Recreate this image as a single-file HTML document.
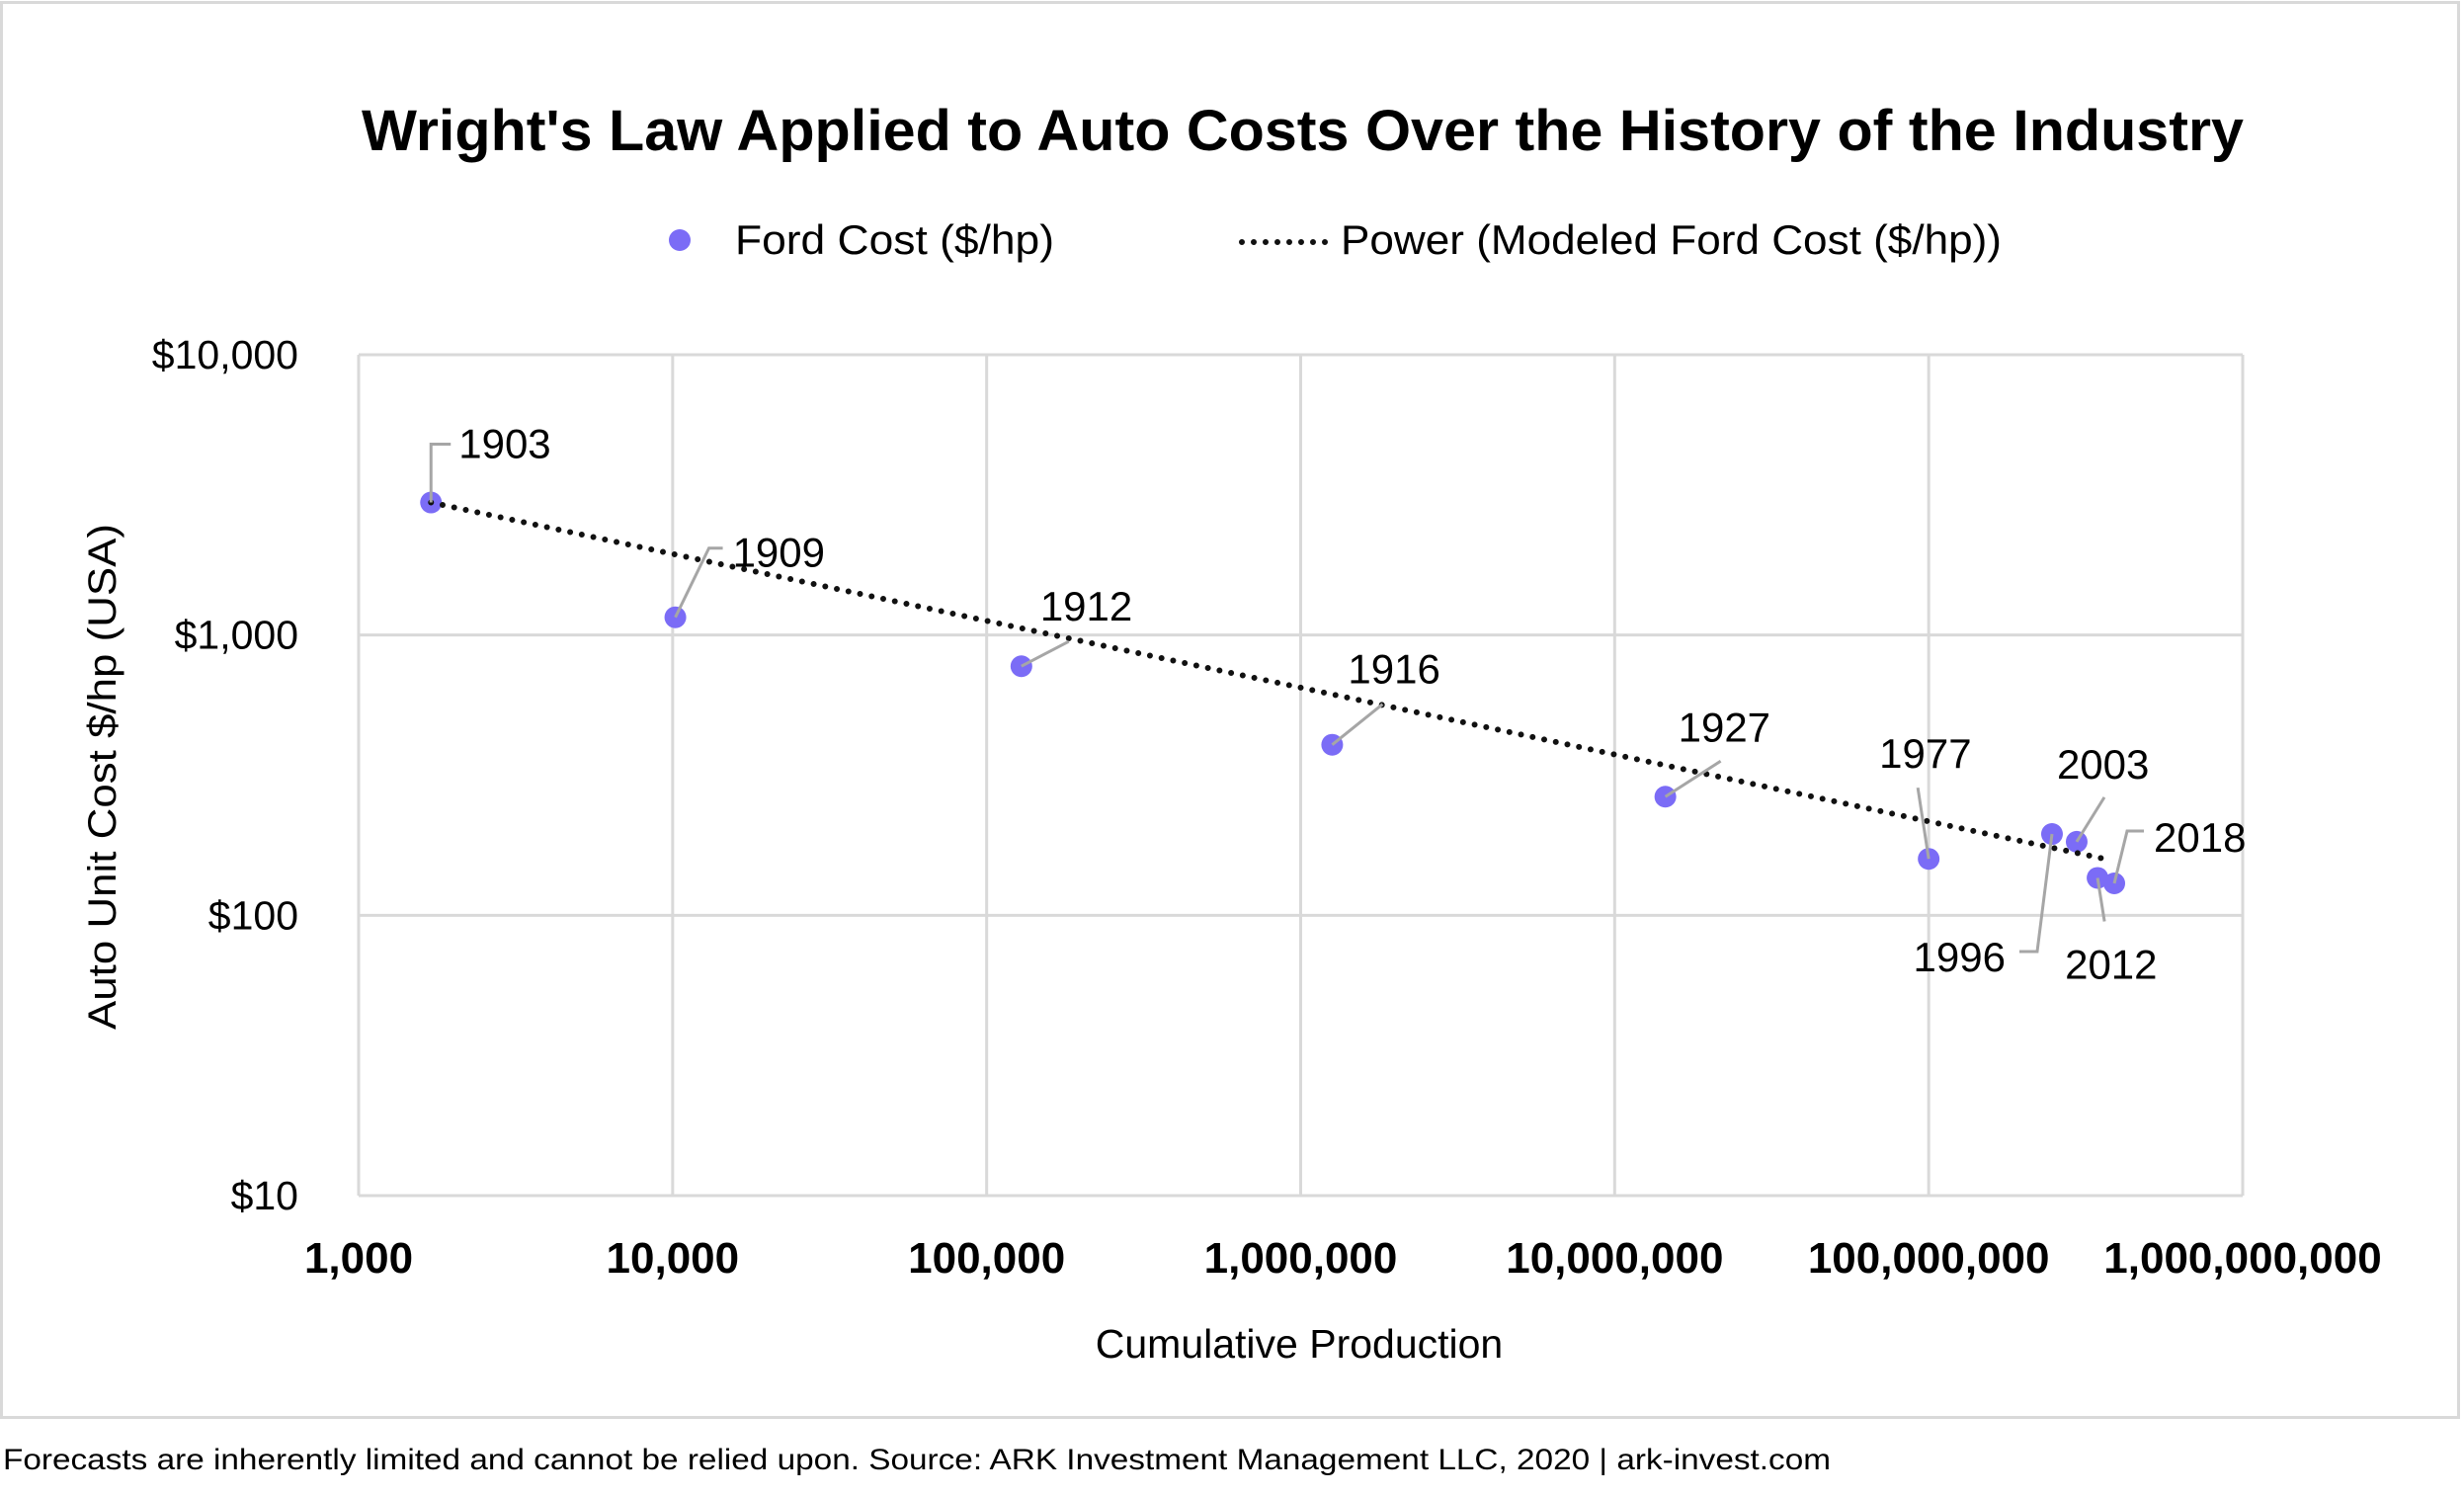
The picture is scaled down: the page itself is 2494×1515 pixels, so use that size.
<!DOCTYPE html>
<html><head><meta charset="utf-8"><style>
html,body{margin:0;padding:0;background:#fff;}
svg{display:block;}
text{font-family:"Liberation Sans",sans-serif;fill:#000;}
</style></head><body>
<svg id="chart" width="2494" height="1515" viewBox="0 0 2494 1515" xmlns="http://www.w3.org/2000/svg">
<rect x="1.5" y="2.5" width="2487" height="1432" fill="#fff" stroke="#d9d9d9" stroke-width="3"/>
<text x="366" y="152" font-size="58" font-weight="bold" textLength="1905" lengthAdjust="spacingAndGlyphs">Wright's Law Applied to Auto Costs Over the History of the Industry</text>
<g>
<circle cx="688" cy="243" r="11" fill="#7b6cf6"/>
<text x="744" y="257" font-size="42" textLength="323" lengthAdjust="spacingAndGlyphs">Ford Cost ($/hp)</text>
<line x1="1257" y1="245" x2="1346" y2="245" stroke="#111" stroke-width="6" stroke-dasharray="0 12" stroke-linecap="round"/>
<text x="1357" y="257" font-size="42" textLength="669" lengthAdjust="spacingAndGlyphs">Power (Modeled Ford Cost ($/hp))</text>
</g>
<g id="plot"></g>
<text x="1315" y="1374" font-size="41" text-anchor="middle">Cumulative Production</text>
<text transform="translate(117,786) rotate(-90)" font-size="40" text-anchor="middle" textLength="512" lengthAdjust="spacingAndGlyphs">Auto Unit Cost $/hp (USA)</text>
<text x="3" y="1487" font-size="30" textLength="1850" lengthAdjust="spacingAndGlyphs">Forecasts are inherently limited and cannot be relied upon. Source: ARK Investment Management LLC, 2020  |  ark-invest.com</text>
</svg>
<script>
const years = ["1903","1909","1912","1916","1927","1977","1996","2003","2012","2018"];
const production = [1700, 10200, 129000, 1260000, 14500000, 100000000, 247000000, 296000000, 345000000, 390000000];
const costPerHp = [2970, 1157, 774, 406, 265, 159, 195, 183, 136, 130];
const xTicks = [1e3,1e4,1e5,1e6,1e7,1e8,1e9];
const xTickLabels = ["1,000","10,000","100,000","1,000,000","10,000,000","100,000,000","1,000,000,000"];
const yTicks = [10,100,1000,10000];
const yTickLabels = ["$10","$100","$1,000","$10,000"];
const trendCoefA = 17508;
const trendExpB = -0.2385;
const trendRange = [1700, 363000000];

const L=363,R=2270,T=359,B=1210;
const xs = v => L + (Math.log10(v)-3)/6*(R-L);
const ys = v => B - (Math.log10(v)-1)/3*(B-T);
const NS="http://www.w3.org/2000/svg";
const plot=document.getElementById('plot');
function mk(tag,attrs,parent){const e=document.createElementNS(NS,tag);for(const k in attrs)e.setAttribute(k,attrs[k]);(parent||plot).appendChild(e);return e;}

xTicks.forEach((t,i)=>{
  const g=mk('line',{x1:xs(t),x2:xs(t),y1:T,y2:B,stroke:'#d9d9d9','stroke-width':3});
  
  
  const tx=mk('text',{x:xs(t),y:1288,'font-size':44,'font-weight':'bold','text-anchor':'middle'});
  tx.textContent=xTickLabels[i];
  
  
});
yTicks.forEach((t,i)=>{
  const g=mk('line',{x1:L,x2:R,y1:ys(t),y2:ys(t),stroke:'#d9d9d9','stroke-width':3});
  
  
  const tx=mk('text',{x:302,y:ys(t)+14,'font-size':41,'text-anchor':'end'});
  tx.textContent=yTickLabels[i];
  
  
});

const lead=[
 {p:[[0,0],[0,-59],[20,-59]],tx:28,ty:-45,a:'start'},
 {p:[[0,0],[34,-70],[48,-70]],tx:58,ty:-51,a:'start'},
 {p:[[0,0],[48,-25]],tx:19,ty:-46,a:'start'},
 {p:[[0,0],[51,-41]],tx:16,ty:-62,a:'start'},
 {p:[[0,0],[56,-36]],tx:13,ty:-56,a:'start'},
 {p:[[0,0],[-11,-72]],tx:-50,ty:-92,a:'start'},
 {p:[[0,0],[-15,119],[-33,119]],tx:-47,ty:139,a:'end'},
 {p:[[0,0],[28,-45]],tx:-20,ty:-64,a:'start'},
 {p:[[0,0],[7,44]],tx:-33,ty:102,a:'start'},
 {p:[[0,0],[13,-53],[30,-53]],tx:40,ty:-32,a:'start'}
];

const tl=mk('line',{x1:xs(trendRange[0]),y1:ys(trendCoefA*Math.pow(trendRange[0],trendExpB)),x2:xs(trendRange[1]),y2:ys(trendCoefA*Math.pow(trendRange[1],trendExpB)),stroke:'#111','stroke-width':6,'stroke-dasharray':'0 12','stroke-linecap':'round'});

production.forEach((v,i)=>{
  const cx=xs(v),cy=ys(costPerHp[i]);
  const c=mk('circle',{cx:cx,cy:cy,r:11,fill:'#7b6cf6'});
  
  
});
plot.appendChild(tl);



production.forEach((v,i)=>{
  const cx=xs(v),cy=ys(costPerHp[i]);const d=lead[i];
  const pts=d.p.map(q=>(cx+q[0])+','+(cy+q[1])).join(' ');
  const pl=mk('polyline',{points:pts,fill:'none',stroke:'#a6a6a6','stroke-width':3});
  
  
  const t=mk('text',{x:cx+d.tx,y:cy+d.ty,'font-size':42,'text-anchor':d.a});
  t.textContent=years[i];
  
  
});
</script>
</body></html>
